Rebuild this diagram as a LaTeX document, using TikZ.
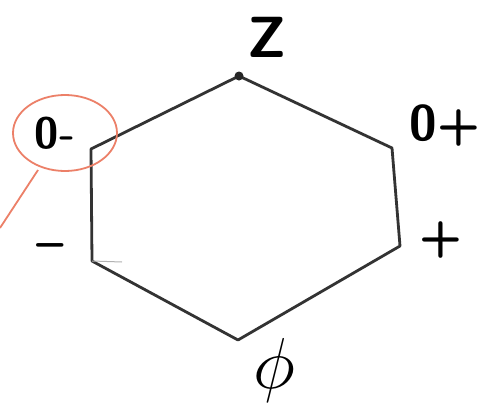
\documentclass[tikz,border=0pt]{standalone}
\definecolor{salmonmark}{RGB}{236,128,104}
\begin{document}
\begin{tikzpicture}[x=1pt,y=-1pt,
  edge/.style={draw=black!80, line width=2.8pt, line join=round, line cap=round},
  lab/.style={font=\fontsize{50}{50}\selectfont\sffamily\bfseries, inner sep=0pt},
  ringmark/.style={draw=salmonmark, line width=1.8pt}]
\useasboundingbox (0,0) rectangle (484,407);
\fill[white] (0,0) rectangle (484,407);
\coordinate (vt) at (239,76);
\coordinate (vur) at (392,148);
\coordinate (vlr) at (400,246);
\coordinate (vb) at (238,340);
\coordinate (vll) at (92,261);
\coordinate (vul) at (91,149);
\draw[edge] (vt) -- (vur) -- (vlr) -- (vb) -- (vll) -- (vul) -- cycle;
\fill[black!85] (vt) circle (4.5pt);
\draw[black!30, line width=1pt] (vll) -- (122,262);
\node[lab, font=\fontsize{58}{58}\selectfont\sffamily\bfseries] (z) at (267,37) {Z};
\node[lab] (zp) at (445,126) {0+};
\node[lab] (p) at (441,240) {+};
\node[lab] (phi) at (274,370) {\scalebox{2.9}{$\phi$}};
\node[lab] (m) at (50,252) {--};
\node[lab, font=\fontsize{44}{44}\selectfont\sffamily\bfseries] (zm) at (55,133) {0-};
\draw[ringmark] (65,133) ellipse [x radius=52, y radius=38];
\coordinate (tailend) at (0,228);
\draw[ringmark] (38,170) -- (tailend);
\end{tikzpicture}
\end{document}
